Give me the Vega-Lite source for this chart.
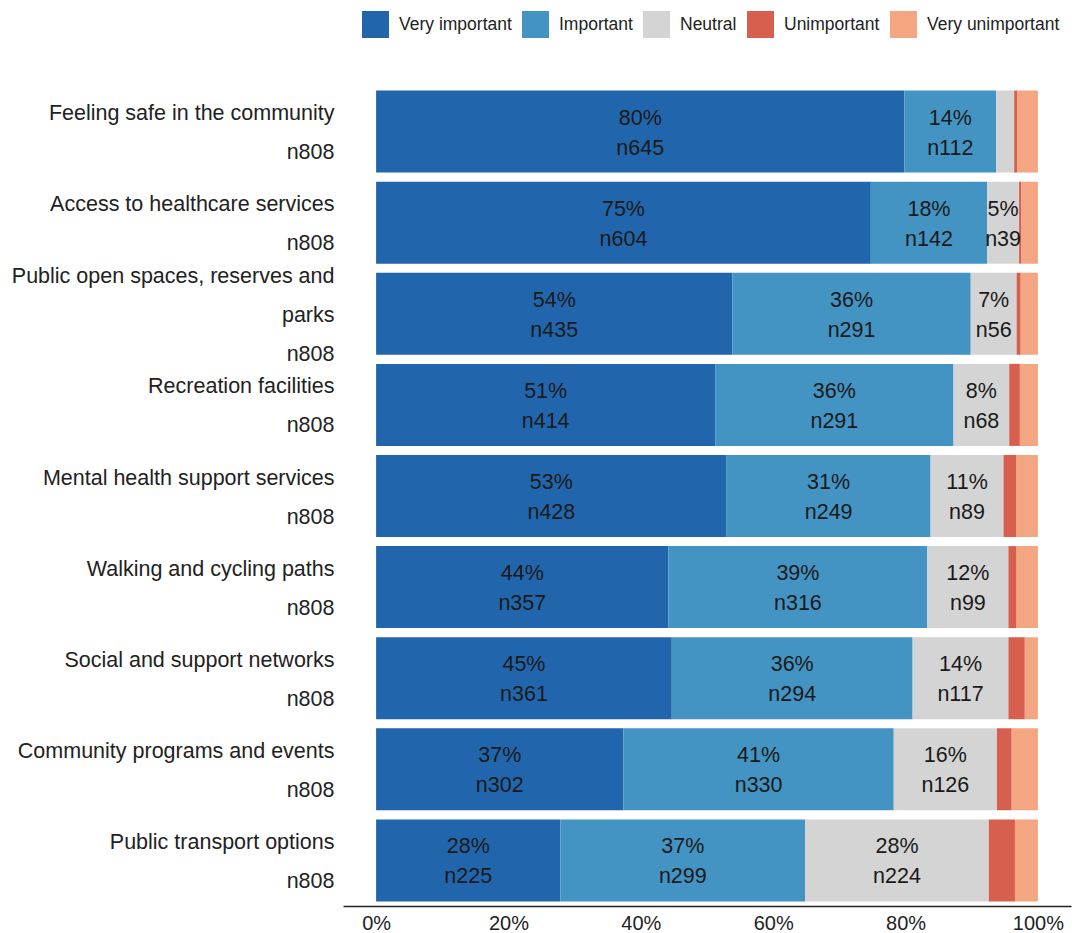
{
  "$schema": "https://vega.github.io/schema/vega-lite/v6.json",
  "width": 728,
  "height": 820,
  "autosize": {"type": "none"},
  "padding": {"left": 343, "top": 86, "right": 1, "bottom": 27},
  "config": {"view": {"stroke": null}, "font": "Liberation Sans"},
  "data": {
    "values": [
      {"item": "Feeling safe in the community", "response": "Very important", "n": 645},
      {"item": "Feeling safe in the community", "response": "Important", "n": 112},
      {"item": "Feeling safe in the community", "response": "Neutral", "n": 22},
      {"item": "Feeling safe in the community", "response": "Unimportant", "n": 4},
      {"item": "Feeling safe in the community", "response": "Very unimportant", "n": 25},
      {"item": "Access to healthcare services", "response": "Very important", "n": 604},
      {"item": "Access to healthcare services", "response": "Important", "n": 142},
      {"item": "Access to healthcare services", "response": "Neutral", "n": 39},
      {"item": "Access to healthcare services", "response": "Unimportant", "n": 3},
      {"item": "Access to healthcare services", "response": "Very unimportant", "n": 20},
      {"item": "Public open spaces, reserves and parks", "response": "Very important", "n": 435},
      {"item": "Public open spaces, reserves and parks", "response": "Important", "n": 291},
      {"item": "Public open spaces, reserves and parks", "response": "Neutral", "n": 56},
      {"item": "Public open spaces, reserves and parks", "response": "Unimportant", "n": 5},
      {"item": "Public open spaces, reserves and parks", "response": "Very unimportant", "n": 21},
      {"item": "Recreation facilities", "response": "Very important", "n": 414},
      {"item": "Recreation facilities", "response": "Important", "n": 291},
      {"item": "Recreation facilities", "response": "Neutral", "n": 68},
      {"item": "Recreation facilities", "response": "Unimportant", "n": 13},
      {"item": "Recreation facilities", "response": "Very unimportant", "n": 22},
      {"item": "Mental health support services", "response": "Very important", "n": 428},
      {"item": "Mental health support services", "response": "Important", "n": 249},
      {"item": "Mental health support services", "response": "Neutral", "n": 89},
      {"item": "Mental health support services", "response": "Unimportant", "n": 16},
      {"item": "Mental health support services", "response": "Very unimportant", "n": 26},
      {"item": "Walking and cycling paths", "response": "Very important", "n": 357},
      {"item": "Walking and cycling paths", "response": "Important", "n": 316},
      {"item": "Walking and cycling paths", "response": "Neutral", "n": 99},
      {"item": "Walking and cycling paths", "response": "Unimportant", "n": 10},
      {"item": "Walking and cycling paths", "response": "Very unimportant", "n": 26},
      {"item": "Social and support networks", "response": "Very important", "n": 361},
      {"item": "Social and support networks", "response": "Important", "n": 294},
      {"item": "Social and support networks", "response": "Neutral", "n": 117},
      {"item": "Social and support networks", "response": "Unimportant", "n": 20},
      {"item": "Social and support networks", "response": "Very unimportant", "n": 16},
      {"item": "Community programs and events", "response": "Very important", "n": 302},
      {"item": "Community programs and events", "response": "Important", "n": 330},
      {"item": "Community programs and events", "response": "Neutral", "n": 126},
      {"item": "Community programs and events", "response": "Unimportant", "n": 18},
      {"item": "Community programs and events", "response": "Very unimportant", "n": 32},
      {"item": "Public transport options", "response": "Very important", "n": 225},
      {"item": "Public transport options", "response": "Important", "n": 299},
      {"item": "Public transport options", "response": "Neutral", "n": 224},
      {"item": "Public transport options", "response": "Unimportant", "n": 32},
      {"item": "Public transport options", "response": "Very unimportant", "n": 28}
    ]
  },
  "transform": [
    {"calculate": "indexof(['Very important','Important','Neutral','Unimportant','Very unimportant'], datum.response)", "as": "ord"},
    {"joinaggregate": [{"op": "sum", "field": "n", "as": "total"}], "groupby": ["item"]},
    {"stack": "n", "groupby": ["item"], "sort": [{"field": "ord", "order": "ascending"}], "offset": "normalize", "as": ["x0", "x1"]},
    {"calculate": "(datum.x0 + datum.x1) / 2", "as": "xm"},
    {"calculate": "format(datum.n / datum.total, '.0%') + '\\n' + 'n' + datum.n", "as": "lab"}
  ],
  "encoding": {
    "y": {
      "field": "item",
      "type": "nominal",
      "sort": ["Feeling safe in the community", "Access to healthcare services", "Public open spaces, reserves and parks", "Recreation facilities", "Mental health support services", "Walking and cycling paths", "Social and support networks", "Community programs and events", "Public transport options"],
      "scale": {"paddingInner": 0.1, "paddingOuter": 0.05},
      "axis": {
        "title": null,
        "ticks": false,
        "domain": false,
        "labelPadding": 9,
        "labelFontSize": 21.5,
        "labelLineHeight": 39,
        "labelColor": "#222222",
        "labelLimit": 400,
        "labelOffset": {"condition": {"test": "datum.value == 'Public open spaces, reserves and parks'", "value": -37}, "value": -17.5},
        "labelExpr": "datum.value == 'Public open spaces, reserves and parks' ? ['Public open spaces, reserves and', 'parks', 'n808'] : [datum.value, 'n808']"
      }
    }
  },
  "layer": [
    {
      "mark": {"type": "bar"},
      "encoding": {
        "x": {
          "field": "x0",
          "type": "quantitative",
          "scale": {"domain": [-0.05, 1.05], "nice": false, "zero": false},
          "axis": {
            "title": null,
            "values": [0, 0.2, 0.4, 0.6, 0.8, 1],
            "format": ".0%",
            "grid": false,
            "ticks": false,
            "domainColor": "#222222",
            "domainWidth": 1.5,
            "labelFontSize": 20,
            "labelPadding": 7,
            "labelColor": "#222222"
          }
        },
        "x2": {"field": "x1"},
        "color": {
          "field": "response",
          "type": "nominal",
          "scale": {
            "domain": ["Very important", "Important", "Neutral", "Unimportant", "Very unimportant"],
            "range": ["#2166ac", "#4393c3", "#d4d4d4", "#d6604d", "#f4a582"]
          },
          "legend": {
            "title": null,
            "orient": "none",
            "direction": "horizontal",
            "legendX": 19,
            "legendY": -75,
            "symbolType": "square",
            "symbolSize": 729,
            "symbolStrokeWidth": 0,
            "symbolOpacity": 1,
            "labelFontSize": 17.5,
            "labelOffset": 10,
            "columnPadding": 10,
            "labelColor": "#222222"
          }
        }
      }
    },
    {
      "transform": [{"filter": "datum.n >= 35"}],
      "mark": {"type": "text", "lineBreak": "\n", "fontSize": 21.5, "lineHeight": 30, "dy": -13, "color": "#1a1a1a", "baseline": "middle"},
      "encoding": {
        "x": {"field": "xm", "type": "quantitative"},
        "text": {"field": "lab"}
      }
    }
  ]
}
